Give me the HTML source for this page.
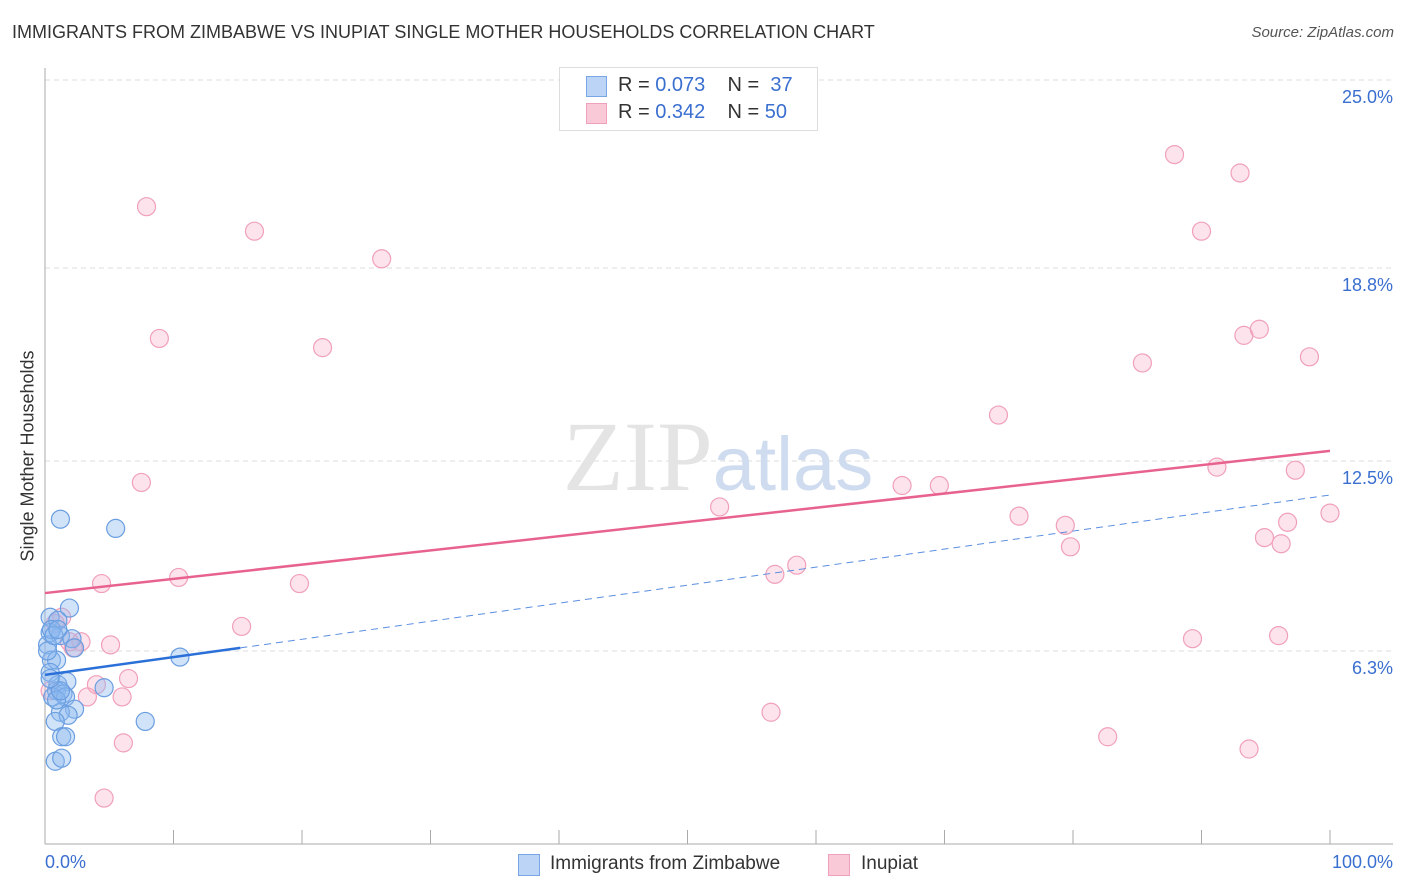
<!DOCTYPE html>
<html><head><meta charset="utf-8"><style>
body{margin:0;background:#fff;font-family:"Liberation Sans",sans-serif;}
#wrap{position:relative;width:1406px;height:892px;overflow:hidden;}
.t{position:absolute;white-space:nowrap;}
</style></head><body>
<div id="wrap">
<div class="t" style="left:12px;top:22px;font-size:18px;color:#333;">IMMIGRANTS FROM ZIMBABWE VS INUPIAT SINGLE MOTHER HOUSEHOLDS CORRELATION CHART</div>
<div class="t" style="right:12px;top:24px;font-size:15px;color:#555;font-style:italic;">Source: ZipAtlas.com</div>
<svg id="plot" width="1406" height="892" style="position:absolute;left:0;top:0"></svg>
</div>
<script>
const yTicks=[6.3,12.5,18.8,25.0];
const yTickLabels=["6.3%","12.5%","18.8%","25.0%"];
const xTicks=[0,10,20,30,40,50,60,70,80,90,100];
const blueX=[1.2,5.5,1.9,0.4,1.0,0.4,1.2,2.1,0.2,0.5,0.9,10.5,0.4,1.0,1.7,4.6,0.9,1.4,0.6,1.6,2.3,1.2,1.8,0.8,7.8,1.3,1.6,0.8,1.3,0.2,0.5,2.3,0.9,1.2,0.4,0.7,1.0];
const blueY=[10.6,10.3,7.7,7.4,7.3,6.9,6.8,6.7,6.5,6.0,6.0,6.1,5.6,5.2,5.3,5.1,5.0,4.9,4.8,4.8,4.4,4.3,4.2,4.0,4.0,3.5,3.5,2.7,2.8,6.3,7.0,6.4,4.7,5.0,5.4,6.8,7.0];
const pinkX=[7.9,16.3,26.2,8.9,21.6,7.5,4.4,10.4,19.8,15.3,5.1,2.8,1.3,2.2,4.0,6.5,6.0,3.3,6.1,4.6,87.9,93.0,90.0,93.3,94.5,98.4,85.4,74.2,52.5,66.7,69.6,91.2,97.3,75.8,79.4,79.8,94.9,96.2,96.7,100,56.8,58.5,89.3,96.0,56.5,82.7,93.7,0.8,1.9,0.4];
const pinkY=[20.8,20.0,19.1,16.5,16.2,11.8,8.5,8.7,8.5,7.1,6.5,6.6,7.4,6.4,5.2,5.4,4.8,4.8,3.3,1.5,22.5,21.9,20.0,16.6,16.8,15.9,15.7,14.0,11.0,11.7,11.7,12.3,12.2,10.7,10.4,9.7,10.0,9.8,10.5,10.8,8.8,9.1,6.7,6.8,4.3,3.5,3.1,7.2,6.6,5.0];
const pinkLine=[8.19,12.83];
const blueLine=[5.52,6.40,10.5,11.39];
const sx=v=>45+v*12.85, sy=v=>844-v*30.64;
const svgEl=document.getElementById('plot');const NS='http://www.w3.org/2000/svg';
function mk(t,a){const e=document.createElementNS(NS,t);for(const k in a)e.setAttribute(k,a[k]);svgEl.appendChild(e);return e;}
yTicks.forEach((v,i)=>{
 const yy=sy(v)+(i==3?2:0);
 const g=mk('line',{x1:45,x2:1393,y1:yy,y2:yy,stroke:'#ddd','stroke-dasharray':'5,4'});
 
 
 const t=mk('text',{x:1393,y:yy+23,'text-anchor':'end','font-size':18,fill:'#3a6fd0','font-family':'Liberation Sans, sans-serif'});
 t.textContent=yTickLabels[i];
 
 
});
const ax=mk('line',{x1:45,x2:45,y1:68,y2:844,stroke:'#aaa'});


const bx=mk('line',{x1:45,x2:1393,y1:844,y2:844,stroke:'#aaa'});


xTicks.forEach(v=>{const l=mk('line',{x1:sx(v),x2:sx(v),y1:830,y2:844,stroke:'#aaa'});
 
 });
const wm=mk('text',{x:718,y:490,'text-anchor':'middle','font-size':100,fill:'#e4e4e4','font-family':'Liberation Serif, serif'});wm.innerHTML='ZIP<tspan fill="#cfdcf0" font-family="Liberation Sans, sans-serif" font-size="76">atlas</tspan>';


function pts(X,Y,fill,stroke,name){X.forEach((x,i)=>{const c=mk('circle',{cx:sx(x),cy:sy(Y[i]),r:9,fill:fill,stroke:stroke,'stroke-width':1.2});
 
 });}
pts(pinkX,pinkY,'rgba(248,175,198,0.35)','#f0a0ba','inupiat-point');
pts(blueX,blueY,'rgba(140,185,240,0.4)','#6a9ee0','zimbabwe-point');
const pl=mk('line',{x1:sx(0),y1:sy(pinkLine[0]),x2:sx(100),y2:sy(pinkLine[1]),stroke:'#e8628e','stroke-width':2.5});


const bl=mk('line',{x1:sx(0),y1:sy(blueLine[0]),x2:sx(15.2),y2:sy(blueLine[1]),stroke:'#2a70d8','stroke-width':2.5});


const bd=mk('line',{x1:sx(15.2),y1:sy(blueLine[1]),x2:sx(100),y2:sy(blueLine[3]),stroke:'#5a8ee0','stroke-width':1,'stroke-dasharray':'7,5'});


</script>
<div class="t" style="left:45px;top:852px;font-size:18px;color:#3a6fd0;">0.0%</div>
<div class="t" style="right:13px;top:852px;font-size:18px;color:#3a6fd0;">100.0%</div>
<div class="t" style="left:28px;top:456px;font-size:18px;color:#333;transform:translate(-50%,-50%) rotate(-90deg);">Single Mother Households</div>
<div style="position:absolute;left:559px;top:67px;width:257px;height:62px;border:1px solid #ddd;background:#fff;font-size:20px;">
 <div style="position:absolute;left:26px;top:8px;width:19px;height:19px;background:#bcd4f5;border:1px solid #7aa6e6;"></div>
 <div class="t" style="left:58px;top:6px;color:#333;">R = <span style="color:#3a6fd0">0.073</span>&nbsp;&nbsp;&nbsp; N = &nbsp;<span style="color:#3a6fd0">37</span></div>
 <div style="position:absolute;left:26px;top:35px;width:19px;height:19px;background:#fac9d8;border:1px solid #f0a0ba;"></div>
 <div class="t" style="left:58px;top:33px;color:#333;">R = <span style="color:#3a6fd0">0.342</span>&nbsp;&nbsp;&nbsp; N = <span style="color:#3a6fd0">50</span></div>
</div>
<div style="position:absolute;left:518px;top:853px;font-size:19px;color:#333;">
 <div style="position:absolute;left:0;top:1px;width:20px;height:20px;background:#bcd4f5;border:1px solid #7aa6e6;"></div>
 <span class="t" style="left:32px;top:0;">Immigrants from Zimbabwe</span></div>
<div style="position:absolute;left:828px;top:853px;font-size:19px;color:#333;">
 <div style="position:absolute;left:0;top:1px;width:20px;height:20px;background:#fac9d8;border:1px solid #f0a0ba;"></div>
 <span class="t" style="left:33px;top:0;">Inupiat</span></div>
</body></html>
